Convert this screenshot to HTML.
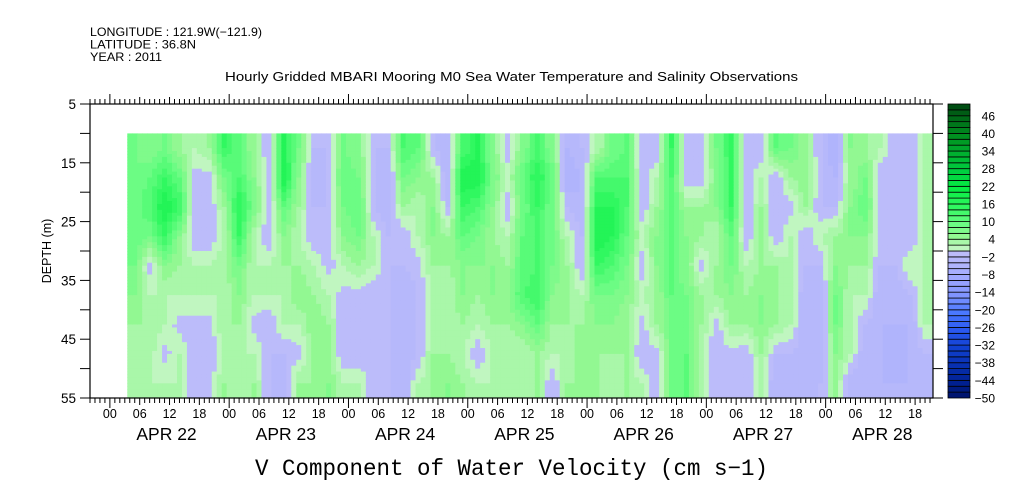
<!DOCTYPE html>
<html><head><meta charset="utf-8">
<style>
html,body{margin:0;padding:0;background:#fff;}
svg{display:block;font-family:"Liberation Sans",sans-serif;}
</style></head>
<body>
<svg id="chart" width="1009" height="504" viewBox="0 0 1009 504" xmlns="http://www.w3.org/2000/svg">
<g font-size="12" fill="#000">
<text x="90" y="36" textLength="172" lengthAdjust="spacingAndGlyphs">LONGITUDE : 121.9W(−121.9)</text>
<text x="90" y="48.5" textLength="106" lengthAdjust="spacingAndGlyphs">LATITUDE : 36.8N</text>
<text x="90" y="61" textLength="72" lengthAdjust="spacingAndGlyphs">YEAR : 2011</text>
</g>
<text x="225" y="81" font-size="13" textLength="573" lengthAdjust="spacingAndGlyphs">Hourly Gridded MBARI Mooring M0 Sea Water Temperature and Salinity Observations</text>
<g id="heat"></g>
<g id="axes"></g>
<g id="cbar"></g>
<text transform="translate(51,251) rotate(-90)" font-size="12.5" text-anchor="middle">DEPTH (m)</text>
<text x="255" y="475" font-family="'Liberation Mono',monospace" font-size="23" textLength="513" lengthAdjust="spacingAndGlyphs">V Component of Water Velocity (cm s−1)</text>
</svg>
<script>
// time of first column (hours after Apr 22 00:00), step 3h
const colStartHours = [3.5];
const colStepHours = [3];
// depth bin centers (m)
const depths = [12.5,17.5,22.5,27.5,32.5,37.5,42.5,47.5,52.5];
// each entry: velocity profile (cm/s) for one 3-hour column, top to bottom
const values = [
[8,8,8,10,8,6,4,2,3],[6,10,12,8,-1,2,4,3,2],[8,14,18,14,6,2,2,-1,2],[4,10,14,6,4,2,-1,2,2],
[2,-1,-2,-2,2,2,-1,-2,-2],[4,-1,-2,-2,2,2,-1,-2,-1],[14,8,4,2,4,2,4,2,4],[10,12,16,14,8,6,4,2,2],
[4,6,8,2,2,2,-1,2,4],[-2,-2,-2,-2,2,2,-2,-2,-2],[16,18,10,6,4,2,2,-2,-4],[8,6,4,2,4,6,2,-1,4],
[-2,-4,-2,-2,2,4,6,4,4],[-2,-2,-2,-2,-1,2,4,4,6],[8,10,8,6,2,-1,-2,-2,2],[6,8,10,8,4,-1,-2,-2,2],
[-2,-2,-2,2,2,-2,-2,-2,-1],[-2,-4,-4,-2,-2,-2,-2,-2,-2],
[12,8,4,-2,-2,-4,-4,-4,-4],[10,6,2,2,-1,-2,-2,-2,2],[-2,4,6,6,4,2,2,4,4],[-4,-4,-2,4,4,2,2,4,6],
[12,18,14,10,6,6,4,2,4],[16,18,12,8,6,4,2,-2,2],[6,8,6,4,6,6,4,2,2],[-2,2,-2,2,4,6,4,2,2],
[6,10,8,10,10,12,6,2,2],[12,16,14,12,12,14,10,4,4],[6,10,8,8,8,6,4,2,-2],[-4,-6,-2,2,4,4,4,2,4],
[-2,-4,-4,-2,-2,2,4,6,4],[2,12,16,18,14,8,6,4,4],[8,12,16,16,12,8,6,4,2],[10,12,12,10,8,6,4,4,4],
[-2,-2,-2,2,-2,2,-1,-2,2],[-2,2,4,6,6,4,4,-1,-2],
[14,12,10,10,10,10,8,8,8],[-2,-2,4,6,6,8,8,10,10],[-2,-2,4,4,-1,4,4,2,2],[8,6,6,2,4,4,-1,-2,-2],
[14,14,14,10,8,6,4,-1,-2],[-2,-2,-2,-2,2,4,4,-2,-2],[-2,2,4,4,4,6,6,4,2],[10,-2,-2,-2,4,4,4,-2,-4],
[8,4,-1,2,2,2,2,-2,-4],[4,6,4,-2,-2,-4,-4,-4,-4],[-2,-2,-2,2,-2,-4,-4,-4,-2],[-6,-4,-2,4,6,8,8,6,4],
[6,4,6,6,4,2,2,2,-4],[4,8,10,6,4,2,-2,-4,-4],[2,-2,-2,-2,-2,-4,-4,-4,-4],[-2,-2,-2,-2,-2,-4,-4,-6,-4],
[-2,-2,-2,-2,2,-2,-4,-4,-4],[2,2,2,2,2,2,2,-2,-4]
];
const cbarLabels = [46,40,34,28,22,16,10,4,-2,-8,-14,-20,-26,-32,-38,-44,-50];
const yTickLabels = [5,15,25,35,45,55];
const dayLabels = ["APR 22","APR 23","APR 24","APR 25","APR 26","APR 27","APR 28"];
const hourLabels = ["00","06","12","18"];

const NS="http://www.w3.org/2000/svg";
const X0=90,X1=933,Y0=104,Y1=398;
const T0=-4, T1=165.6;
const xs=h=>X0+(h-T0)/(T1-T0)*(X1-X0);
const ys=d=>Y0+(d-5)/(55-5)*(Y1-Y0);
function mk(tag,attrs,parent){const e=document.createElementNS(NS,tag);for(const k in attrs)e.setAttribute(k,attrs[k]);parent.appendChild(e);return e;}
function lerp(a,b,t){return a.map((v,i)=>Math.round(v+(b[i]-v)*t));}
function hex(s){return [1,3,5].map(i=>parseInt(s.substr(i,2),16));}
const posStops=[[0,"#c0f6c0"],[4,"#92f892"],[8,"#6cfc84"],[14,"#30f860"],[20,"#08ec44"],[26,"#00d040"],[32,"#00b030"],[38,"#009020"],[44,"#006a18"],[50,"#004010"]];
const negStops=[[0,"#bcbcfa"],[4,"#b0b4fc"],[8,"#a0a8ff"],[14,"#8094ff"],[20,"#4a78ff"],[26,"#2a58f0"],[32,"#1040d0"],[38,"#0830b0"],[44,"#002090"],[50,"#001060"]];
function stopCol(stops,v){for(let i=0;i<stops.length-1;i++){if(v<=stops[i+1][0]){const t=(v-stops[i][0])/(stops[i+1][0]-stops[i][0]);return lerp(hex(stops[i][1]),hex(stops[i+1][1]),t);}}return hex(stops[stops.length-1][1]);}
function bandColor(v){
  let lo=Math.floor(v/2)*2; lo=Math.max(-50,Math.min(48,lo));
  const c = lo>=0 ? stopCol(posStops,lo) : stopCol(negStops,-(lo+2));
  return "rgb("+c.join(",")+")";
}
function profAt(prof,dc){
  if(dc<=depths[0]) return prof[0];
  if(dc>=depths[depths.length-1]) return prof[prof.length-1];
  let j=0;while(depths[j+1]<dc)j++;
  const t=(dc-depths[j])/(depths[j+1]-depths[j]);
  return prof[j]+(prof[j+1]-prof[j])*t;
}
const heat=document.getElementById('heat');
const NSUB=3;
const step=colStepHours[0];
values.forEach((prof,ci)=>{
  for(let s=0;s<NSUB;s++){
    const h0=colStartHours[0]+ci*step+s*step/NSUB, h1=h0+step/NSUB;
    const x0=xs(h0), x1=Math.min(xs(h1),X1);
    const fc=(s+0.5)/NSUB-0.5;
    const nb = fc<0 ? values[Math.max(0,ci-1)] : values[Math.min(values.length-1,ci+1)];
    const w=Math.abs(fc)*0.9;
    for(let d=10; d<55; d+=0.5){
      const dc=d+0.25;
      const v=profAt(prof,dc)*(1-w)+profAt(nb,dc)*w;
      const r=mk('rect',{x:x0.toFixed(2),y:ys(d).toFixed(2),width:(x1-x0+0.5).toFixed(2),height:(ys(d+0.5)-ys(d)+0.6).toFixed(2),fill:bandColor(v)},heat);
      
      
    }
  }
});
const ax=document.getElementById('axes');
const frame=mk('rect',{x:X0,y:Y0,width:X1-X0,height:Y1-Y0,fill:'none',stroke:'#000','stroke-width':1.2},ax);


for(let d=5; d<=55; d+=5){
  const y=ys(d);
  mk('line',{x1:X0-10,y1:y,x2:X0,y2:y,stroke:'#000'},ax);
  mk('line',{x1:X1,y1:y,x2:X1+10,y2:y,stroke:'#000'},ax);
}
yTickLabels.forEach(d=>{
  const t=mk('text',{x:X0-14,y:ys(d)+5,'font-size':13.5,'text-anchor':'end'},ax);
  t.textContent=d;
  
  
});
for(let h=Math.ceil(T0); h<=T1; h++){
  const x=xs(h); const major=(h%24===0); const mid=(h%6===0);
  const L=major?10:(mid?7:5);
  mk('line',{x1:x,y1:Y0,x2:x,y2:Y0-L,stroke:'#000'},ax);
  mk('line',{x1:x,y1:Y1,x2:x,y2:Y1+L,stroke:'#000'},ax);
  if(h%6===0){
    const t=mk('text',{x:x,y:418,'font-size':12.5,'text-anchor':'middle'},ax);
    t.textContent=hourLabels[((h%24)+24)%24/6];
    
    
  }
}
dayLabels.forEach((s,i)=>{
  const t=mk('text',{x:xs(i*24+12)-3,y:440,'font-size':17.5,'text-anchor':'middle'},ax);
  t.textContent=s;
  
  
});
const cb=document.getElementById('cbar');
const CX=948,CW=22;
const cy=v=>Y1-(v+50)/100*(Y1-Y0);
for(let v=-50; v<50; v+=2){
  const r=mk('rect',{x:CX,y:cy(v+2),width:CW,height:cy(v)-cy(v+2),fill:bandColor(v+1),stroke:'#000','stroke-width':0.8},cb);
  
  
}
cbarLabels.forEach(v=>{
  const t=mk('text',{x:995,y:cy(v)+4.5,'font-size':12,'text-anchor':'end'},cb);
  t.textContent=v<0?"−"+(-v):v;
  
  
});
</script>
</body></html>
